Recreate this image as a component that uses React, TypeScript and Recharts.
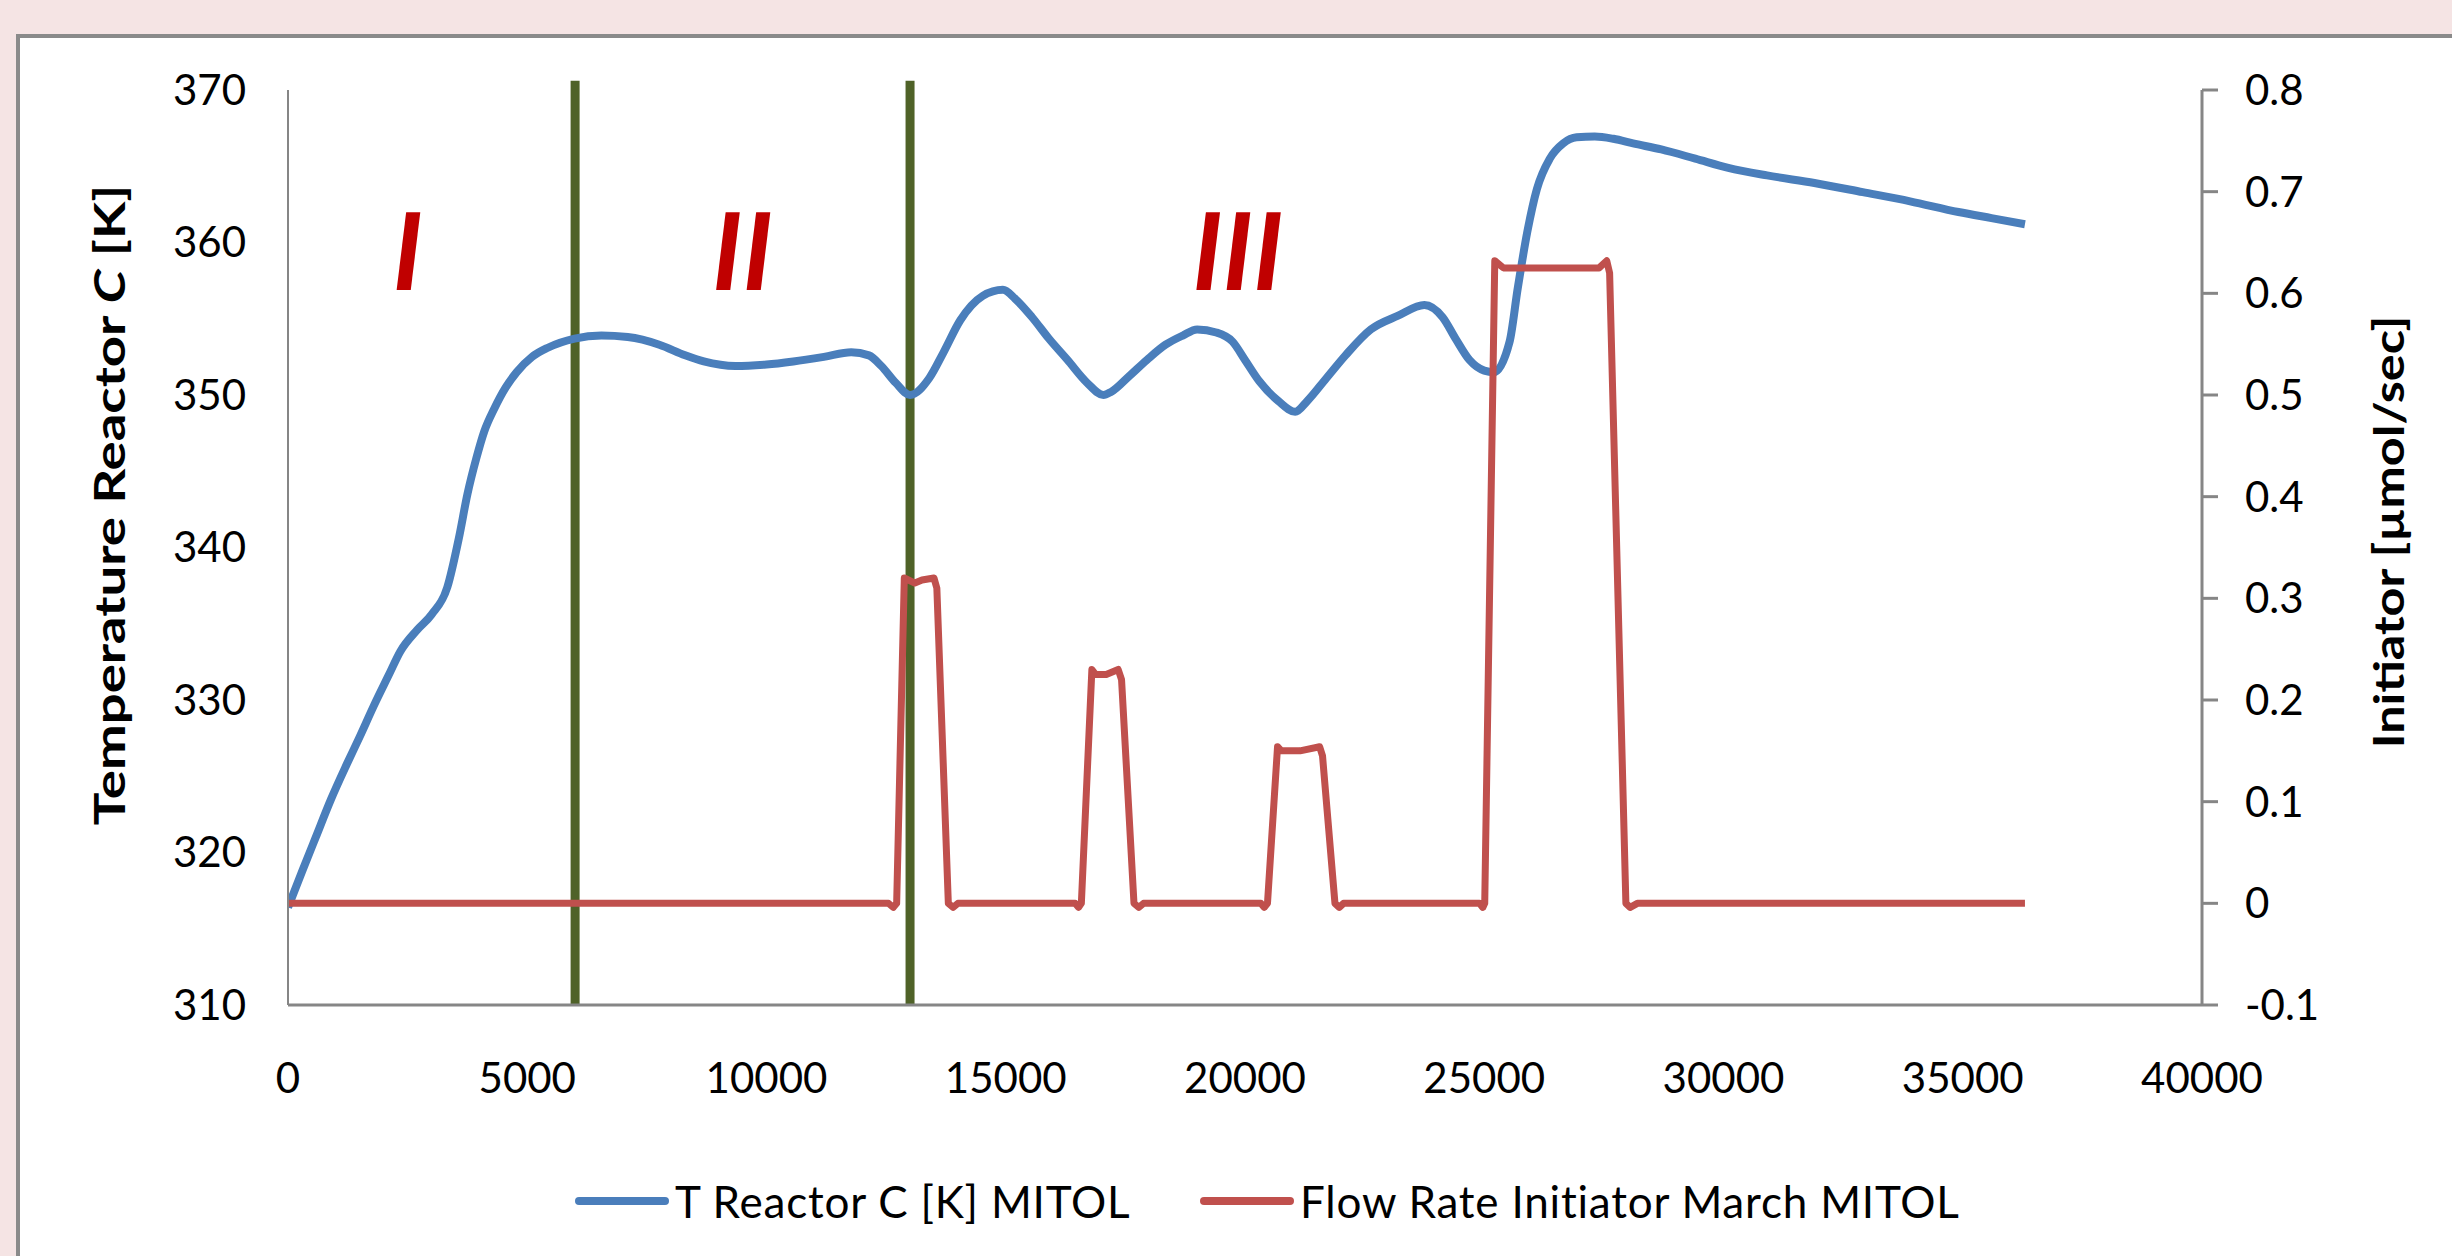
import React from "react";
import { LineChart, Line, XAxis, YAxis, Legend, ReferenceLine, ReferenceDot } from "recharts";

// axis ticks
const xTicks = [0, 5000, 10000, 15000, 20000, 25000, 30000, 35000, 40000];
const tempTicks = [310, 320, 330, 340, 350, 360, 370];
const flowTicks = [-0.1, 0, 0.1, 0.2, 0.3, 0.4, 0.5, 0.6, 0.7, 0.8];

// T Reactor C [K] MITOL
const tempTime = [
  0, 300, 580, 900, 1230, 1500, 1790, 2100, 2350, 2700, 3000, 3330, 3570, 3750, 3940, 4100, 4310, 4550,
  4780, 5100, 5430, 5990, 6550, 7100, 7760, 8300, 8690, 9350, 10000, 10560, 11200, 11770, 12140, 12400,
  12700, 13000, 13400, 13700, 14050, 14520, 14940, 15200, 15550, 15900, 16290, 16700, 17040, 17200, 17600,
  17950, 18340, 18700, 19000, 19400, 19740, 20000, 20300, 20700, 21050, 21300, 21700, 22100, 22630, 23200,
  23750, 24130, 24400, 24690, 25000, 25200, 25530, 25700, 25900, 26100, 26370, 26650, 26930, 27310, 27700,
  28110, 28700, 29410, 30100, 30910, 31900, 32910, 33900, 34910, 35600, 36300,
];
const tempValue = [
  316.4, 318.8, 321.0, 323.5, 325.8, 327.6, 329.6, 331.6, 333.2, 334.6, 335.6, 337.4, 340.6, 343.5, 345.9,
  347.6, 349.1, 350.5, 351.5, 352.5, 353.1, 353.7, 353.9, 353.8, 353.3, 352.6, 352.2, 351.9, 352.0, 352.2,
  352.5, 352.8, 352.6, 351.9, 350.8, 350.0, 351.1, 352.8, 354.9, 356.5, 356.9, 356.3, 355.1, 353.7, 352.3,
  350.8, 350.0, 350.2, 351.3, 352.3, 353.3, 353.9, 354.3, 354.1, 353.5, 352.3, 350.9, 349.6, 348.9, 349.6,
  351.1, 352.6, 354.3, 355.2, 355.9, 355.1, 353.7, 352.3, 351.6, 351.5, 353.5, 357.0, 360.7, 363.5, 365.5,
  366.5, 366.9, 366.95, 366.8, 366.5, 366.1, 365.5, 364.9, 364.4, 363.9, 363.3, 362.7, 362.0, 361.6, 361.2,
];

// Flow Rate Initiator March MITOL
const flowTime = [
  0, 12550, 12650, 12720, 12880, 13100, 13250, 13500, 13560, 13800, 13900, 14000,
  16450, 16520, 16580, 16800, 16880, 17100, 17350, 17420, 17680, 17780, 17880,
  20330, 20400, 20470, 20680, 20760, 21150, 21560, 21620, 21880, 21970, 22060,
  24900, 24970, 25010, 25220, 25400, 27400, 27560, 27620, 27960, 28050, 28200, 36300,
];
const flowValue = [
  0, 0, -0.004, 0, 0.32, 0.315, 0.318, 0.32, 0.31, 0, -0.004, 0,
  0, -0.004, 0, 0.23, 0.225, 0.225, 0.23, 0.22, 0, -0.004, 0,
  0, -0.004, 0, 0.154, 0.15, 0.15, 0.154, 0.145, 0, -0.004, 0,
  0, -0.004, 0, 0.632, 0.625, 0.625, 0.632, 0.62, 0, -0.004, 0, 0,
];

// phase markers
const phaseBounds = [6000, 13000];
const phaseNames = ["I", "II", "III"];
const phaseNameTime = [2500, 9500, 19850];
const phaseNameTemp = 356.9;

const seriesNames = ["T Reactor C [K] MITOL", "Flow Rate Initiator March MITOL"];

const tempData = tempTime.map((t, i) => ({ t, k: tempValue[i] }));
const flowData = flowTime.map((t, i) => ({ t, f: flowValue[i] }));

const font = "Lato, 'Open Sans', sans-serif";
const axisGray = "#868686";

const tickStyle = { fontFamily: font, fontSize: 42, fill: "#000" };

const leftTitle = () => (
  <text
    transform="translate(109 505) rotate(-90) scale(1.3 1)"
    textAnchor="middle"
    dominantBaseline="central"
    fontFamily={font}
    fontWeight={700}
    fontSize={42}
    fill="#000"
  >
    Temperature Reactor <tspan fontStyle="italic">C</tspan> [K]
  </text>
);

const rightTitle = () => (
  <text
    transform="translate(2388 532) rotate(-90) scale(1.2 1)"
    textAnchor="middle"
    dominantBaseline="central"
    fontFamily={font}
    fontWeight={700}
    fontSize={42}
    fill="#000"
  >
    Initiator [µmol/sec]
  </text>
);

const renderLegend = (props: any) => {
  const payload = [...(props.payload || [])].sort(
    (a: any, b: any) => seriesNames.indexOf(a.value) - seriesNames.indexOf(b.value)
  );
  return (
    <div style={{ display: "flex", alignItems: "center", height: 60, paddingLeft: 575 }}>
      {payload.map((entry: any, i: number) => (
        <div key={i} style={{ display: "flex", alignItems: "center", width: i === 0 ? 625 : "auto" }}>
          <div style={{ width: 94, height: 8, borderRadius: 4, background: entry.color }} />
          <span
            style={{
              marginLeft: 6,
              fontFamily: font,
              fontSize: 44,
              letterSpacing: 0.8,
              color: "#000",
              whiteSpace: "nowrap",
            }}
          >
            {entry.value}
          </span>
        </div>
      ))}
    </div>
  );
};

const romanShape = (text: string) => (props: any) => (
  <text
    x={props.cx}
    y={props.cy}
    textAnchor="middle"
    fontFamily={font}
    fontWeight={700}
    fontStyle="italic"
    fontSize={108}
    fill="#c00000"
  >
    {text}
  </text>
);

export default function App() {
  return (
    <div style={{ position: "absolute", left: 0, top: 0, width: 2452, height: 1256, background: "#f5e4e4", overflow: "hidden" }}>
      <div
        style={{
          position: "absolute",
          left: 16,
          top: 34,
          right: 0,
          bottom: 0,
          background: "#fff",
          borderLeft: "4px solid #8a8a8a",
          borderTop: "4px solid #8a8a8a",
        }}
      />
      <div style={{ position: "absolute", left: 0, top: 0 }}>
        <LineChart width={2452} height={1256} margin={{ top: 90, right: 0, bottom: 25, left: 0 }}>
          <XAxis
            dataKey="t"
            type="number"
            domain={[0, 40000]}
            ticks={xTicks}
            allowDataOverflow
            stroke={axisGray}
            strokeWidth={3}
            tickLine={false}
            tickSize={0}
            tickMargin={58}
            tick={tickStyle}
            height={166}
          />
          <YAxis
            yAxisId="left"
            domain={[310, 370]}
            ticks={tempTicks}
            allowDataOverflow
            stroke={axisGray}
            strokeWidth={2}
            tickLine={false}
            tickSize={0}
            tickMargin={42}
            tick={tickStyle}
            width={288}
            label={{ content: leftTitle }}
          />
          <YAxis
            yAxisId="right"
            orientation="right"
            domain={[-0.1, 0.8]}
            ticks={flowTicks}
            allowDataOverflow
            stroke={axisGray}
            strokeWidth={3}
            tickSize={16}
            tickMargin={27}
            tick={tickStyle}
            tickFormatter={(v: number) => String(v)}
            width={250}
            label={{ content: rightTitle }}
          />
          {phaseBounds.map((x) => (
            <ReferenceLine
              key={x}
              yAxisId="left"
              segment={[{ x, y: 370.6 }, { x, y: 309.93 }]}
              stroke="#4f6228"
              strokeWidth={9}
              ifOverflow="visible"
            />
          ))}
          {phaseNames.map((name, i) => (
            <ReferenceDot
              key={name}
              yAxisId="left"
              x={phaseNameTime[i]}
              y={phaseNameTemp}
              r={0}
              ifOverflow="visible"
              shape={romanShape(name)}
            />
          ))}
          <Line
            yAxisId="left"
            data={tempData}
            dataKey="k"
            name={seriesNames[0]}
            type="monotone"
            stroke="#4a7ebb"
            strokeWidth={8}
            dot={false}
            activeDot={false}
            isAnimationActive={false}
          />
          <Line
            yAxisId="right"
            data={flowData}
            dataKey="f"
            name={seriesNames[1]}
            type="linear"
            stroke="#c0504d"
            strokeWidth={7}
            strokeLinejoin="round"
            dot={false}
            activeDot={false}
            isAnimationActive={false}
          />
          <Legend verticalAlign="bottom" content={renderLegend} wrapperStyle={{ left: 0, width: 2452 }} />
        </LineChart>
      </div>
    </div>
  );
}
